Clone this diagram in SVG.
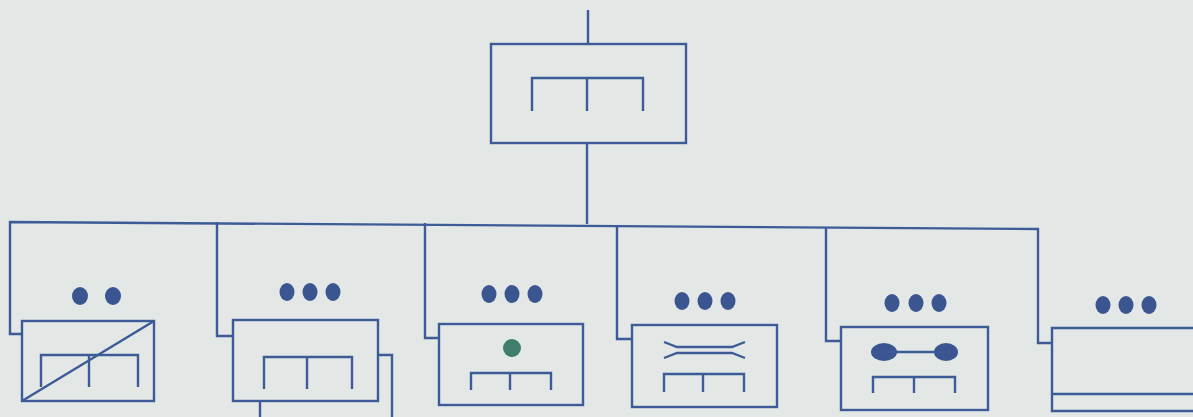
<svg xmlns="http://www.w3.org/2000/svg" width="1193" height="417" viewBox="0 0 1193 417">
<style>
.ln{fill:none;stroke:#3d5b96;stroke-width:2.4;stroke-linejoin:miter;stroke-linecap:butt}
.dot{fill:#3a5590}
.g{fill:#3f7e6c}
</style>
<rect x="0" y="0" width="1193" height="417" fill="#e3e7e6"/>
<g id="connectors" class="ln">
<line x1="588" y1="10" x2="588" y2="44"/>
<line x1="587" y1="143" x2="587" y2="224"/>
<polyline points="22,334 10,334 10,222 1038,229 1038,343 1052,343"/>
<polyline points="217,222 217,336 233,336"/>
<polyline points="425,223 425,338 439,338"/>
<polyline points="617,225 617,339 632,339"/>
<polyline points="826,227 826,341 841,341"/>
</g>
<g id="root" class="ln">
<rect x="491" y="44" width="195" height="99"/>
<polyline points="532,111 532,78 643,78 643,111"/>
<line x1="587" y1="78" x2="587" y2="111"/>
</g>
<g id="node1">
<ellipse class="dot" cx="80" cy="296" rx="8" ry="9"/>
<ellipse class="dot" cx="113" cy="296" rx="8" ry="9"/>
<g class="ln">
<rect x="22" y="321" width="132" height="80"/>
<polyline points="41,387 41,355 138,355 138,387"/>
<line x1="89" y1="355" x2="89" y2="387"/>
<line x1="22" y1="401" x2="154" y2="321"/>
</g>
</g>
<g id="node2">
<ellipse class="dot" cx="287" cy="292" rx="7.5" ry="9"/>
<ellipse class="dot" cx="310" cy="292" rx="7.5" ry="9"/>
<ellipse class="dot" cx="333" cy="292" rx="7.5" ry="9"/>
<g class="ln">
<polyline points="378,355 392,355 392,417"/>
<line x1="260" y1="401" x2="260" y2="417"/>
<rect x="233" y="320" width="145" height="81"/>
<polyline points="264,389 264,357 352,357 352,389"/>
<line x1="307" y1="357" x2="307" y2="389"/>
</g>
</g>
<g id="node3">
<ellipse class="dot" cx="489" cy="294" rx="7.5" ry="9"/>
<ellipse class="dot" cx="512" cy="294" rx="7.5" ry="9"/>
<ellipse class="dot" cx="535" cy="294" rx="7.5" ry="9"/>
<circle class="g" cx="512" cy="348" r="9"/>
<g class="ln">
<rect x="439" y="324" width="144" height="81"/>
<polyline points="471,390 471,373 551,373 551,390"/>
<line x1="510" y1="373" x2="510" y2="390"/>
</g>
</g>
<g id="node4">
<ellipse class="dot" cx="682" cy="301" rx="7.5" ry="9"/>
<ellipse class="dot" cx="705" cy="301" rx="7.5" ry="9"/>
<ellipse class="dot" cx="728" cy="301" rx="7.5" ry="9"/>
<g class="ln">
<rect x="632" y="325" width="145" height="82"/>
<polyline points="664,342 677,347 732,347 745,342"/>
<polyline points="664,358 677,353 732,353 745,358"/>
<polyline points="664,392 664,374 744,374 744,392"/>
<line x1="703" y1="374" x2="703" y2="392"/>
</g>
</g>
<g id="node5">
<ellipse class="dot" cx="892" cy="303" rx="7.5" ry="9"/>
<ellipse class="dot" cx="916" cy="303" rx="7.5" ry="9"/>
<ellipse class="dot" cx="939" cy="303" rx="7.5" ry="9"/>
<ellipse class="dot" cx="884" cy="352" rx="13" ry="9"/>
<ellipse class="dot" cx="946" cy="352" rx="12" ry="9"/>
<g class="ln">
<line x1="884" y1="352" x2="946" y2="352"/>
<rect x="841" y="327" width="147" height="83"/>
<polyline points="873,393 873,377 955,377 955,393"/>
<line x1="914" y1="377" x2="914" y2="393"/>
</g>
</g>
<g id="node6">
<ellipse class="dot" cx="1103" cy="305" rx="7.5" ry="9"/>
<ellipse class="dot" cx="1126" cy="305" rx="7.5" ry="9"/>
<ellipse class="dot" cx="1149" cy="305" rx="7.5" ry="9"/>
<g class="ln">
<polyline points="1195,328 1052,328 1052,411 1195,411"/>
<line x1="1052" y1="394" x2="1195" y2="394"/>
</g>
</g>
</svg>
